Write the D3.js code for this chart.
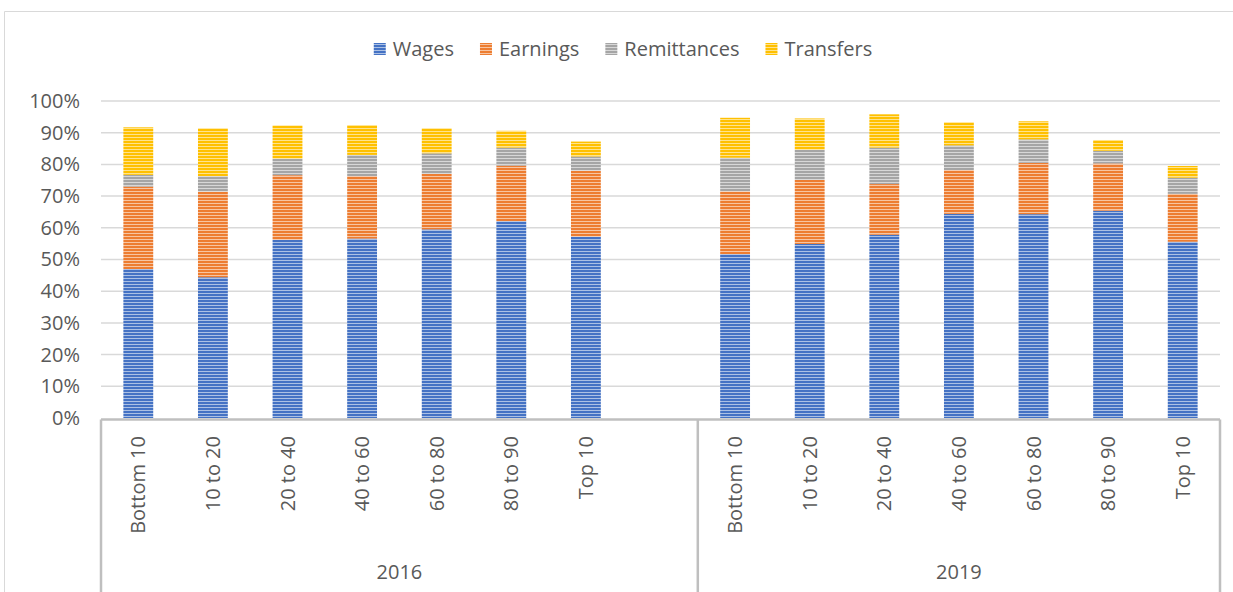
<!DOCTYPE html>
<html>
<head>
<meta charset="utf-8">
<script src="https://cdn.jsdelivr.net/npm/d3@7"></script>
<style>
  body { margin: 0; background: #fff; }
  svg { display: block; font-family: "Open Sans", sans-serif; }
  text { fill: #595959; }
</style>
</head>
<body>
<div id="chart"></div>
<script>
// brackets and years on the category axis
var years = ["2016", "2019"];
var brackets = ["Bottom 10", "10 to 20", "20 to 40", "40 to 60", "60 to 80", "80 to 90", "Top 10"];
var seriesNames = ["Wages", "Earnings", "Remittances", "Transfers"];
var seriesColors = ["#4472C4", "#ED7D31", "#A5A5A5", "#FFC000"];
var yTicks = [0, 10, 20, 30, 40, 50, 60, 70, 80, 90, 100];

// shares in percent
var wages2016 = [47.0, 44.4, 56.2, 56.6, 59.5, 62.1, 57.2];
var wages2019 = [51.7, 54.9, 57.8, 64.4, 64.3, 65.4, 55.6];
var earnings2016 = [26.0, 27.0, 20.4, 19.7, 17.5, 17.5, 20.8];
var earnings2019 = [19.8, 20.2, 16.0, 13.8, 16.2, 14.9, 15.1];
var remittances2016 = [3.7, 4.9, 5.2, 6.7, 6.5, 5.7, 4.5];
var remittances2019 = [10.6, 9.5, 11.5, 7.8, 7.4, 4.0, 5.1];
var transfers2016 = [15.0, 15.1, 10.5, 9.4, 7.9, 5.3, 4.7];
var transfers2019 = [12.6, 9.9, 10.5, 7.3, 5.7, 3.4, 3.7];

var valuesByYear = {
  "2016": [wages2016, earnings2016, remittances2016, transfers2016],
  "2019": [wages2019, earnings2019, remittances2019, transfers2019]
};

// one row per bar, plus an empty slot after the 2016 group
var rows = [];
var slots = [];
years.forEach(function(yr, yi) {
  brackets.forEach(function(b, bi) {
    var row = {key: yr + "|" + b, year: yr, bracket: b};
    seriesNames.forEach(function(s, si) { row[s] = valuesByYear[yr][si][bi]; });
    rows.push(row);
    slots.push(row.key);
  });
  if (yi == 0) slots.push(yr + "|gap");
});

var W = 1233, H = 592;
var plotLeft = 101, plotRight = 1220, plotTop = 101, plotBase = 418;
var fontSize = 20;

var svg = d3.select("#chart").append("svg")
  .attr("width", W)
  .attr("height", H);

// striped fills
var defs = svg.append("defs");
seriesColors.forEach(function(c, i) {
  var light = d3.interpolateRgb(c, "#ffffff")(0.55);
  var p = defs.append("pattern")
    .attr("id", "stripe" + i)
    .attr("patternUnits", "userSpaceOnUse")
    .attr("width", 6)
    .attr("height", 3);
  p.append("rect").attr("width", 6).attr("height", 3).attr("fill", c);
  p.append("rect").attr("y", 2).attr("width", 6).attr("height", 1).attr("fill", light);
});

// outer chart border (cut off on the right and bottom)
svg.append("path")
  .attr("d", "M4.5," + H + "V11.5H" + W)
  .attr("fill", "none")
  .attr("stroke", "#D9D9D9")
  .attr("stroke-width", 1);

var x = d3.scaleBand()
  .domain(slots)
  .range([plotLeft, plotRight])
  .paddingInner(0.6)
  .paddingOuter(0.3);

var y = d3.scaleLinear()
  .domain([0, 100])
  .range([plotBase, plotTop]);

// gridlines
svg.append("g")
  .selectAll("line")
  .data(yTicks.slice(1))
  .enter().append("line")
  .attr("x1", plotLeft)
  .attr("x2", plotRight)
  .attr("y1", function(d) { return y(d); })
  .attr("y2", function(d) { return y(d); })
  .attr("stroke", "#D9D9D9")
  .attr("stroke-width", 1.5);

// y axis labels
var yAxis = svg.append("g")
  .attr("transform", "translate(" + (plotLeft - 21) + ",0)")
  .call(d3.axisLeft(y).tickValues(yTicks).tickSize(0).tickPadding(0)
    .tickFormat(function(d) { return d + "%"; }));
yAxis.select(".domain").remove();
yAxis.selectAll("text")
  .attr("font-size", fontSize)
  .attr("font-family", "Open Sans, sans-serif")
  .attr("fill", "#595959");

// stacked bars
var stack = d3.stack().keys(seriesNames);
var layers = stack(rows);

svg.append("g")
  .selectAll("g")
  .data(layers)
  .enter().append("g")
  .attr("fill", function(d, i) { return "url(#stripe" + i + ")"; })
  .selectAll("rect")
  .data(function(d) { return d; })
  .enter().append("rect")
  .attr("x", function(d) { return x(d.data.key); })
  .attr("width", x.bandwidth())
  .attr("y", function(d) { return y(d[1]); })
  .attr("height", function(d) { return y(d[0]) - y(d[1]); });

// category axis box
var edge = x.step() * x.paddingInner() / 2;
var splitX = x("2019|" + brackets[0]) - edge;
var axisG = svg.append("g")
  .attr("stroke", "#BFBFBF")
  .attr("stroke-width", 2.5)
  .attr("fill", "none");
axisG.append("line").attr("x1", plotLeft).attr("x2", plotRight).attr("y1", plotBase + 1.5).attr("y2", plotBase + 1.5);
[plotLeft, splitX, plotRight].forEach(function(px) {
  axisG.append("line").attr("x1", px).attr("x2", px).attr("y1", plotBase + 1.5).attr("y2", H);
});

// bracket labels, rotated
svg.append("g")
  .selectAll("text")
  .data(rows)
  .enter().append("text")
  .attr("transform", function(d) {
    return "translate(" + (x(d.key) + x.bandwidth() / 2) + "," + 436 + ") rotate(-90)";
  })
  .attr("text-anchor", "end")
  .attr("dy", "0.35em")
  .attr("font-size", fontSize)
  .text(function(d) { return d.bracket; });

// year labels
var yearSpans = [[plotLeft, splitX], [splitX, plotRight]];
svg.append("g")
  .selectAll("text")
  .data(years)
  .enter().append("text")
  .attr("x", function(d, i) { return (yearSpans[i][0] + yearSpans[i][1]) / 2; })
  .attr("y", 579)
  .attr("text-anchor", "middle")
  .attr("font-size", fontSize)
  .text(function(d) { return d; });

// legend, centred above the plot
var legend = svg.append("g");
var items = legend.selectAll("g")
  .data(seriesNames)
  .enter().append("g");
items.append("rect")
  .attr("width", 12)
  .attr("height", 12)
  .attr("y", 43)
  .attr("fill", function(d, i) { return "url(#stripe" + i + ")"; });
items.append("text")
  .attr("x", 19)
  .attr("y", 56)
  .attr("font-size", fontSize)
  .text(function(d) { return d; });

var xPos = 0;
items.each(function() {
  var w = d3.select(this).select("text").node().getComputedTextLength();
  d3.select(this).attr("transform", "translate(" + xPos + ",0)");
  xPos += 19 + w + 26;
});
var legendWidth = xPos - 26;
legend.attr("transform", "translate(" + (623 - legendWidth / 2) + ",0)");
</script>
</body>
</html>
